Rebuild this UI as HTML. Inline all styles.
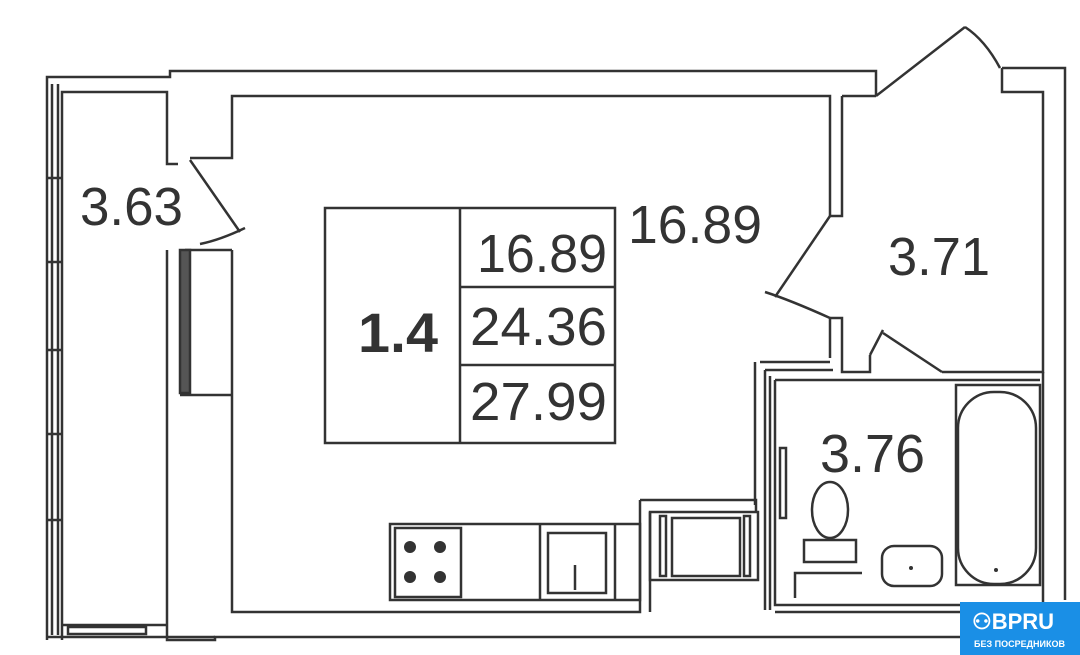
<!DOCTYPE html>
<html><head><meta charset="utf-8"><style>
body{margin:0;background:#fff;width:1080px;height:655px;overflow:hidden;position:relative;font-family:"Liberation Sans",sans-serif}
svg{position:absolute;left:0;top:0}
.t{font-family:"Liberation Sans",sans-serif;fill:#333}
#logo{position:absolute;left:960px;top:602px;width:120px;height:53px;background:#1a8fe6;color:#fff}
</style></head><body>
<svg width="1080" height="655" viewBox="0 0 1080 655">
<g fill="none" stroke="#333" stroke-width="2.5">
<polyline points="47,640 47,77 170,77 170,71 876,71 876,96"/>
<polyline points="62,640 62,92 167,92 167,164 178,164"/>
<polyline points="190,158 232,158 232,96 830,96 830,216"/>
<polyline points="842,96 842,216 830,216"/>
<line x1="842" y1="96" x2="876" y2="96"/>
<line x1="52" y1="84" x2="52" y2="635"/><line x1="58" y1="84" x2="58" y2="635"/>
<line x1="47" y1="178" x2="62" y2="178"/><line x1="47" y1="262" x2="62" y2="262"/><line x1="47" y1="350" x2="62" y2="350"/><line x1="47" y1="434" x2="62" y2="434"/><line x1="47" y1="520" x2="62" y2="520"/>
<polyline points="62,625 167,625"/>
<line x1="47" y1="637" x2="215" y2="637"/>
<rect x="68" y="627" width="78" height="7"/>
<polyline points="167,250 167,640 215,640 215,637 960,637"/>
<polyline points="232,250 232,612 640,612 640,500"/>
<line x1="185" y1="250" x2="232" y2="250"/>
<rect x="180" y="250" width="10" height="143" fill="#555"/>
<line x1="180" y1="395" x2="232" y2="395"/>
<path d="M190,160 L240,232"/><path d="M200,244 Q220,240 245,228"/>
<path d="M876,96 L965,27"/><path d="M965,27 Q985,40 1000,68"/>
<path d="M830,216 L775,297"/><path d="M765,292 Q790,300 830,318"/>
<path d="M942,372 L883,333"/><path d="M883,330 L870,355"/>
<polyline points="1002,68 1002,92 1043,92 1043,372 942,372"/>
<polyline points="1002,68 1065,68 1065,600"/>
<polyline points="830,318 842,318 842,372 870,372 870,355"/>
<line x1="830" y1="318" x2="830" y2="358"/>
<polyline points="760,362 830,362"/><polyline points="765,370 833,370"/>
<polyline points="755,362 755,505"/><polyline points="765,370 765,610"/>
<polyline points="640,500 756,500 756,512"/>
<polyline points="650,512 650,612"/><polyline points="770,376 770,610"/>
<polyline points="775,380 1040,380"/><polyline points="775,380 775,605 1043,605 1043,372"/>
<polyline points="775,612 1060,612"/>
<rect x="325" y="208" width="290" height="235"/>
<line x1="460" y1="208" x2="460" y2="443"/>
<line x1="460" y1="287" x2="615" y2="287"/><line x1="460" y1="365" x2="615" y2="365"/>
<rect x="390" y="524" width="250" height="76"/>
<rect x="395" y="528" width="66" height="69"/>
<line x1="540" y1="524" x2="540" y2="600"/><line x1="615" y1="524" x2="615" y2="600"/>
<rect x="548" y="533" width="58" height="60"/>
<line x1="575" y1="565" x2="575" y2="590"/>
<rect x="650" y="512" width="108" height="68"/>
<rect x="672" y="518" width="68" height="58"/>
<rect x="660" y="516" width="6" height="60"/><rect x="744" y="516" width="6" height="60"/>
<rect x="958" y="392" width="78" height="192" rx="36"/>
<rect x="956" y="385" width="84" height="200"/>
<rect x="882" y="546" width="60" height="40" rx="12"/>
<ellipse cx="830" cy="510" rx="18" ry="28"/>
<rect x="804" y="540" width="52" height="22"/>
<polyline points="795,598 795,573 862,573"/>
<rect x="780" y="448" width="6" height="70"/>
</g>
<g fill="#333">
<circle cx="410" cy="547" r="6"/><circle cx="440" cy="547" r="6"/><circle cx="410" cy="577" r="6"/><circle cx="440" cy="577" r="6"/>
<circle cx="996" cy="570" r="2"/><circle cx="911" cy="568" r="2"/>
</g>
<text class="t" x="80" y="225" font-size="54" textLength="103" lengthAdjust="spacingAndGlyphs">3.63</text>
<text class="t" x="358" y="352" font-size="56" font-weight="bold" textLength="80" lengthAdjust="spacingAndGlyphs">1.4</text>
<text class="t" x="477" y="272" font-size="54" textLength="130" lengthAdjust="spacingAndGlyphs">16.89</text>
<text class="t" x="470" y="345" font-size="54" textLength="137" lengthAdjust="spacingAndGlyphs">24.36</text>
<text class="t" x="470" y="420" font-size="54" textLength="137" lengthAdjust="spacingAndGlyphs">27.99</text>
<text class="t" x="628" y="243" font-size="54" textLength="134" lengthAdjust="spacingAndGlyphs">16.89</text>
<text class="t" x="888" y="275" font-size="54" textLength="102" lengthAdjust="spacingAndGlyphs">3.71</text>
<text class="t" x="820" y="472" font-size="54" textLength="105" lengthAdjust="spacingAndGlyphs">3.76</text>
</svg>
<div id="logo"><div style="position:absolute;left:12px;top:7px;font-size:22px;font-weight:bold">⚇BPRU</div><div style="position:absolute;left:14px;top:37px;font-size:9px;font-weight:bold">БЕЗ ПОСРЕДНИКОВ</div></div>
</body></html>
